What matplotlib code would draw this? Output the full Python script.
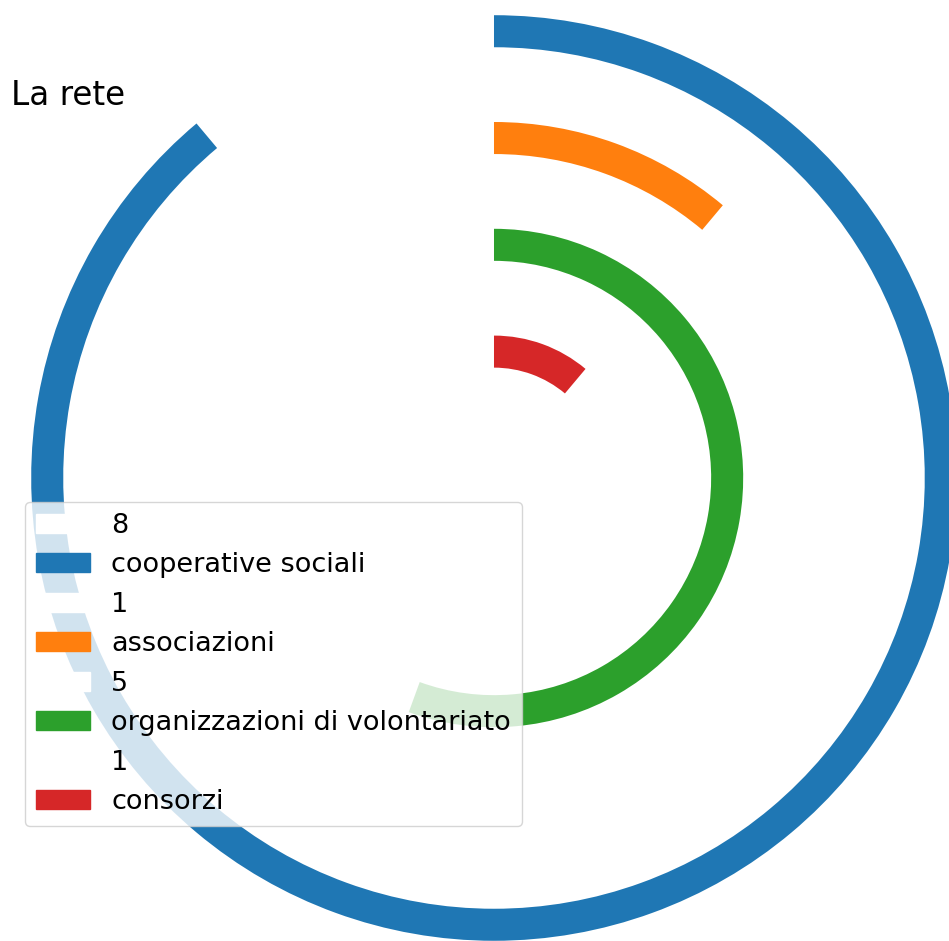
import matplotlib
matplotlib.use("Agg")
from matplotlib import pyplot as plt
from matplotlib.patches import Patch

# dati della rete
categorie = ["cooperative sociali", "associazioni", "organizzazioni di volontariato", "consorzi"]
valori = [8, 1, 5, 1]
massimo = 9
colori = ["tab:blue", "tab:orange", "tab:green", "tab:red"]
raggi = [1.3, 1.0, 0.7, 0.4]

fig = plt.figure(figsize=(9.49, 9.41), dpi=100)
ax = fig.add_axes([0, 0, 1, 1])

handles = []
labels = []
for nome, v, c, r in zip(categorie, valori, colori, raggi):
    # spicchio bianco per il resto, colorato per il valore
    ax.pie([massimo - v, v], radius=r, startangle=90, colors=["white", c],
           wedgeprops=dict(width=0.09))
    handles += [Patch(color="white"), Patch(color=c)]
    labels += [str(v), nome]

ax.set_aspect("auto")
ax.set_xlim(-1.3876, 1.2781)
ax.set_ylim(-1.3006, 1.3427)
ax.axis("off")

fig.legend(handles, labels, loc="lower left", bbox_to_anchor=(0.026, 0.122),
           borderaxespad=0, fontsize=19.5)
fig.text(0.012, 0.888, "La rete", fontsize=23.5, va="baseline")

fig.savefig("out.png", dpi=100)
